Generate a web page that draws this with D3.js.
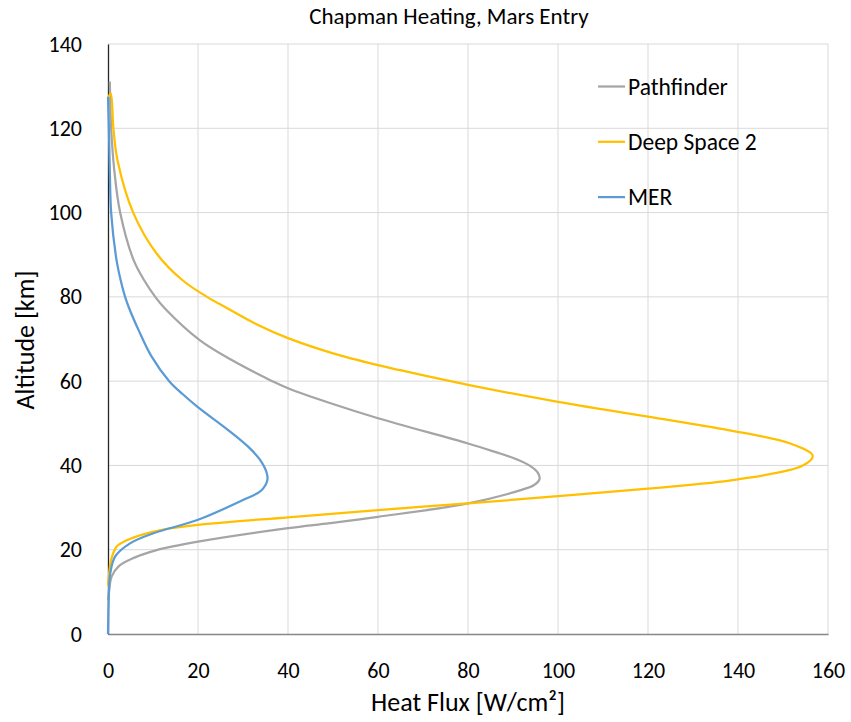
<!DOCTYPE html>
<html>
<head>
<meta charset="utf-8">
<script src="https://cdn.jsdelivr.net/npm/d3@7"></script>
<style>
    body { margin: 0; background: #fff; }
    svg text { font-family: Carlito, Calibri, Lato, "Open Sans", sans-serif; fill: #000; }
</style>
</head>
<body>
<div id="chart"></div>
<script>
// Heat flux [W/cm2] vs altitude [km], top of entry first.
var pathfinderFlux = [0.4, 0.7, 1.4, 2.7, 5.7, 8.0, 10.5, 12.6, 20.3, 27.5, 36.5, 40, 49.3, 60, 80, 86, 90.5, 93.8, 95.5, 95.9, 94.6, 91.9, 80, 60, 49.3, 40, 20, 10.8, 5.6, 2.3, 0.8, 0.2, 0];
var pathfinderAlt = [131.1, 120, 110, 100, 88.7, 84, 80, 77.3, 69.8, 65, 60, 58.3, 54.8, 51.2, 45.2, 43.2, 41.6, 39.9, 38.3, 36.8, 35.3, 34.2, 31, 27.8, 26.3, 25.1, 21.9, 19.9, 18, 16, 13.6, 10, 8];

var ds2Flux = [0, 0.6, 1.2, 2.1, 5.6, 10.8, 16.5, 22, 26.5, 33, 40, 50, 60, 64.9, 80, 100, 120, 137.8, 151.6, 156.6, 154.3, 140, 120, 100, 80, 60, 40, 20, 12.3, 8, 4.3, 1.9, 0.7, 0.1, 0];
var ds2Alt = [127.1, 128.3, 120, 112.5, 100, 90.3, 84, 80, 77.3, 73.5, 70.2, 66.6, 63.8, 62.6, 59.1, 55.1, 51.6, 48.4, 45.2, 42.3, 39.9, 36.7, 34.5, 32.7, 31, 29.4, 27.7, 25.9, 24.8, 23.7, 22.3, 20.7, 17.6, 12.8, 11.5];

var merFlux = [0, 0.2, 0.4, 0.7, 1.9, 2.8, 3.8, 4.7, 6.8, 9.6, 13.6, 16.5, 19.9, 26.7, 31.2, 33.8, 35.3, 35.4, 34, 30, 20, 10.1, 4.9, 1.6, 0.5, 0.2, 0];
var merAlt = [127.5, 120, 110, 100, 88.7, 84, 80, 77.3, 72.1, 66, 60, 57, 53.9, 48.4, 44.4, 41.3, 38.1, 36.5, 34, 31.8, 27.1, 23.9, 21.5, 18.4, 14.4, 9.5, 0];

var seriesNames = ['Pathfinder', 'Deep Space 2', 'MER'];
var seriesColors = ['#a5a5a5', '#ffc000', '#5b9bd5'];

var xTicks = [0, 20, 40, 60, 80, 100, 120, 140, 160];
var yTicks = [0, 20, 40, 60, 80, 100, 120, 140];

var width = 851, height = 722;
var margin = { top: 44, right: 23, bottom: 88, left: 108 };

var svg = d3.select('#chart').append('svg')
    .attr('width', width)
    .attr('height', height);

var x = d3.scaleLinear().domain([0, 160]).range([margin.left, width - margin.right]);
var y = d3.scaleLinear().domain([0, 140]).range([height - margin.bottom, margin.top]);

// Gridlines
svg.append('g').selectAll('line')
    .data(xTicks.slice(1))
    .enter().append('line')
    .attr('x1', function (d) { return x(d); })
    .attr('x2', function (d) { return x(d); })
    .attr('y1', y(0))
    .attr('y2', y(140))
    .style('stroke', '#d9d9d9')
    .style('stroke-width', 1);

svg.append('g').selectAll('line')
    .data(yTicks.slice(1))
    .enter().append('line')
    .attr('x1', x(0))
    .attr('x2', x(160))
    .attr('y1', function (d) { return y(d); })
    .attr('y2', function (d) { return y(d); })
    .style('stroke', '#d9d9d9')
    .style('stroke-width', 1);

// Axes
var xAxis = svg.append('g')
    .attr('transform', 'translate(0,' + y(0) + ')')
    .call(d3.axisBottom(x).tickValues(xTicks).tickSize(0).tickPadding(28));

var yAxis = svg.append('g')
    .attr('transform', 'translate(' + x(0) + ',0)')
    .call(d3.axisLeft(y).tickValues(yTicks).tickSize(0).tickPadding(26));

xAxis.select('.domain').style('stroke', '#868686').style('stroke-width', 1.5);
yAxis.select('.domain').style('stroke', '#262626').style('stroke-width', 1.3);
svg.selectAll('.tick text').style('font-size', '22px').style('font-family', null);

// Series
var series = [
    { name: seriesNames[0], color: seriesColors[0], flux: pathfinderFlux, alt: pathfinderAlt },
    { name: seriesNames[1], color: seriesColors[1], flux: ds2Flux, alt: ds2Alt },
    { name: seriesNames[2], color: seriesColors[2], flux: merFlux, alt: merAlt }
];

var line = d3.line()
    .x(function (d) { return x(d[0]); })
    .y(function (d) { return y(d[1]); })
    .curve(d3.curveCatmullRom.alpha(0.5));

series.forEach(function (s) {
    var points = s.flux.map(function (q, i) { return [q, s.alt[i]]; });
    svg.append('path')
        .datum(points)
        .attr('d', line)
        .style('fill', 'none')
        .style('stroke', s.color)
        .style('stroke-width', 2.25);
});

// Legend
var legend = svg.append('g').selectAll('g')
    .data(series)
    .enter().append('g')
    .attr('transform', function (d, i) { return 'translate(598,' + (86.5 + i * 55.3) + ')'; });

legend.append('line')
    .attr('x1', 0).attr('x2', 27)
    .style('stroke', function (d) { return d.color; })
    .style('stroke-width', 2.25);

legend.append('text')
    .attr('x', 30)
    .attr('dy', '0.35em')
    .style('font-size', '23.5px')
    .text(function (d) { return d.name; });

// Titles
svg.append('text')
    .attr('x', 449).attr('y', 24)
    .attr('text-anchor', 'middle')
    .style('font-size', '23px')
    .text('Chapman Heating, Mars Entry');

svg.append('text')
    .attr('x', 468).attr('y', 711)
    .attr('text-anchor', 'middle')
    .style('font-size', '26px')
    .text('Heat Flux [W/cm²]');

svg.append('text')
    .attr('transform', 'translate(34,340) rotate(-90)')
    .attr('text-anchor', 'middle')
    .style('font-size', '26px')
    .text('Altitude [km]');
</script>
</body>
</html>
